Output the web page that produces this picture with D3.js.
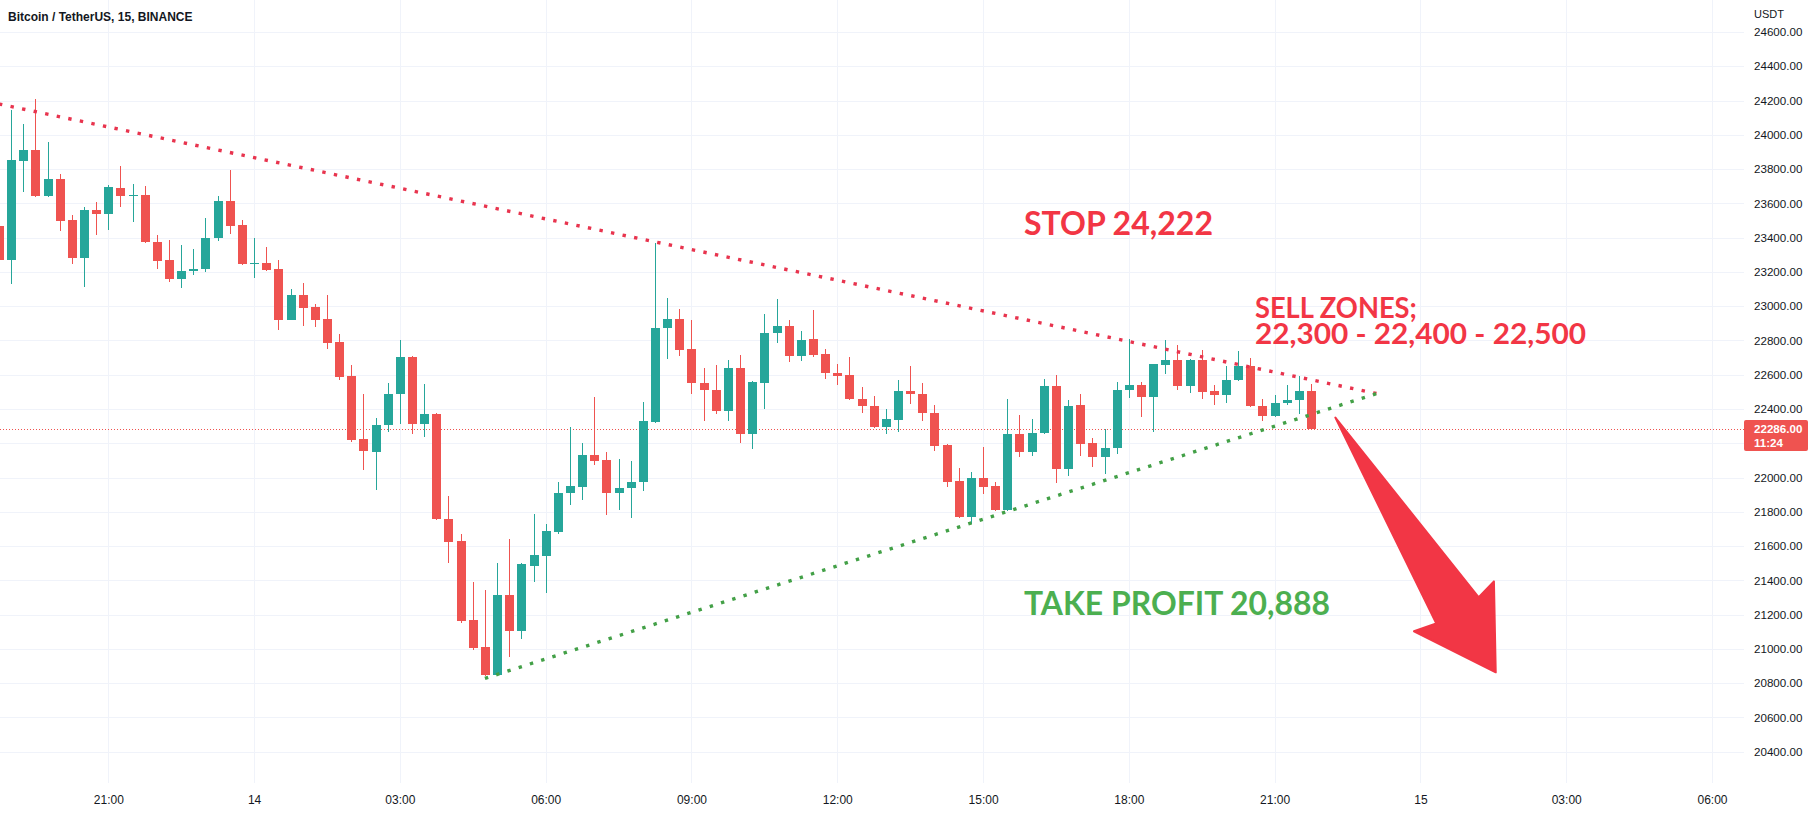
<!DOCTYPE html>
<html><head><meta charset="utf-8">
<script src="https://cdn.jsdelivr.net/npm/d3@7"></script>
<style>body{margin:0;background:#fff;overflow:hidden}svg{display:block}</style>
</head><body>
<svg id="chart" width="1814" height="813"></svg>
<script>
// ---- DATA (15-minute candles, BTC/USDT, starting 13th 18:45) ----
const opens  = [23470,23268,23848,23910,23643,23741,23501,23281,23560,23540,23692,23645,23647,23377,23268,23159,23206,23215,23400,23612,23472,23248,23250,23219,22922,23064,22996,22926,22789,22591,22223,22149,22305,22486,22704,22315,22369,21760,21628,21167,21011,20846,21313,21105,21484,21542,21682,21910,21945,22130,22100,21910,21939,21974,22324,22875,22924,22748,22554,22513,22389,22640,22252,22552,22846,22883,22708,22807,22719,22612,22597,22461,22420,22295,22338,22503,22490,22379,22188,21978,21770,21998,21951,21809,22256,22149,22260,22532,22052,22422,22204,22120,22173,22513,22538,22470,22659,22684,22534,22684,22503,22484,22568,22649,22418,22359,22437,22451,22503];
const highs  = [23490,24143,24065,24211,23958,23770,23530,23579,23608,23705,23816,23711,23700,23414,23388,23355,23336,23517,23641,23793,23501,23398,23346,23268,23102,23137,23011,23064,22840,22655,22490,22350,22552,22801,22710,22548,22375,21891,21673,21391,21342,21501,21640,21500,21789,21727,21974,22295,22202,22470,22149,22110,22097,22441,23369,23050,22986,22918,22641,22655,22684,22713,22565,22953,23044,22918,22853,22980,22752,22661,22704,22529,22474,22402,22568,22651,22552,22422,22198,22056,22033,22178,21974,22457,22363,22344,22573,22601,22451,22486,22233,22285,22558,22811,22558,22665,22805,22776,22690,22746,22542,22649,22739,22700,22457,22480,22538,22591,22548];
const lows   = [23250,23132,23667,23640,23640,23439,23248,23112,23414,23443,23579,23492,23369,23219,23141,23108,23180,23200,23381,23420,23240,23167,23206,22863,22920,22885,22879,22752,22568,22207,22046,21926,22266,22315,22256,22237,21755,21501,21151,20996,20840,20840,20950,21060,21391,21327,21669,21838,21867,22072,21780,21813,21766,21922,22320,22694,22710,22486,22330,22369,22330,22202,22169,22402,22785,22675,22680,22704,22577,22538,22450,22377,22290,22252,22266,22431,22330,22155,21945,21765,21731,21906,21805,21805,22120,22126,22255,21968,22009,22126,22062,22020,22140,22466,22354,22266,22606,22513,22494,22457,22422,22435,22565,22412,22330,22355,22425,22373,22286];
const closes = [23268,23851,23910,23643,23741,23497,23281,23560,23540,23696,23643,23650,23375,23264,23159,23208,23219,23400,23612,23468,23248,23250,23213,22922,23064,22990,22922,22785,22587,22221,22155,22305,22490,22704,22315,22369,21760,21624,21163,21005,20846,21313,21105,21494,21546,21686,21912,21949,22130,22097,21910,21941,21974,22328,22875,22924,22743,22552,22509,22389,22640,22252,22558,22846,22883,22708,22805,22713,22610,22593,22457,22418,22295,22340,22503,22490,22379,22184,21974,21770,21998,21945,21809,22256,22149,22262,22532,22052,22416,22198,22120,22175,22513,22538,22470,22661,22684,22534,22684,22499,22484,22571,22649,22418,22359,22437,22451,22503,22286];

const priceTicks = d3.range(20400, 24601, 200);
const timeTickIndex  = [9, 21, 33, 45, 57, 69, 81, 93, 105, 117, 129, 141];
const timeTickLabels = ["21:00","14","03:00","06:00","09:00","12:00","15:00","18:00","21:00","15","03:00","06:00"];
const lastPrice = 22286;
const countdown = "11:24";
const titleText = "Bitcoin / TetherUS, 15, BINANCE";
const currency = "USDT";

// trend lines: [candle index, price]
const resistanceLine = [[0, 24180], [113.4, 22490]];
const supportLine    = [[40, 20828], [113.4, 22490]];
// arrow outline: [candle index, price]
const arrowPoints = [[110, 22350], [121.8, 21301], [123.05, 21394], [123.2, 20863], [116.47, 21103], [118.3, 21149]];
// annotations: lines of text, [candle index, price] of first baseline start
const annotLines  = [["STOP 24,222"], ["SELL ZONES;", "22,300 - 22,400 - 22,500"], ["TAKE PROFIT 20,888"]];
const annotAnchor = [[84.37, 23415], [103.38, 22933], [84.37, 21198]];
const annotKind   = ["red", "red", "green"];

// ---- LAYOUT ----
const W = 1814, H = 813;
const paneW = 1744, paneH = 783;
const UP = "#26a69a", DOWN = "#ef5350", RED = "#f23645", GREEN = "#4caf50";

const x = d3.scaleLinear().domain([9, 141]).range([108.3, 1712]);
const y = d3.scaleLinear().domain([20400, 24600]).range([751.7, 32.0]);

const svg = d3.select("#chart");
svg.append("rect").attr("width", W).attr("height", H).attr("fill", "#ffffff");

svg.append("defs").append("clipPath").attr("id", "pane")
  .append("rect").attr("x", 0).attr("y", 0).attr("width", paneW).attr("height", paneH);

const pane = svg.append("g").attr("clip-path", "url(#pane)");

// grid
pane.append("g").selectAll("line").data(priceTicks).join("line")
  .attr("x1", 0).attr("x2", paneW)
  .attr("y1", d => Math.round(y(d)) + 0.5).attr("y2", d => Math.round(y(d)) + 0.5)
  .attr("stroke", "#f0f3fa").attr("stroke-width", 1);
pane.append("g").selectAll("line").data(timeTickIndex).join("line")
  .attr("y1", 0).attr("y2", paneH)
  .attr("x1", d => Math.round(x(d)) + 0.5).attr("x2", d => Math.round(x(d)) + 0.5)
  .attr("stroke", "#f0f3fa").attr("stroke-width", 1);

// last price line
pane.append("line")
  .attr("x1", 0).attr("x2", paneW)
  .attr("y1", Math.round(y(lastPrice)) + 0.5).attr("y2", Math.round(y(lastPrice)) + 0.5)
  .attr("stroke", DOWN).attr("stroke-width", 1).attr("stroke-dasharray", "1,2");

// candles
const candles = opens.map((o, i) => ({i, o, h: highs[i], l: lows[i], c: closes[i]}));
const cg = pane.append("g").attr("shape-rendering", "crispEdges");
const bodyW = 9;
cg.selectAll("line.wick").data(candles).join("line").attr("class", "wick")
  .attr("x1", d => Math.round(x(d.i)) + 0.5).attr("x2", d => Math.round(x(d.i)) + 0.5)
  .attr("y1", d => y(d.h)).attr("y2", d => y(d.l))
  .attr("stroke", d => d.c >= d.o ? UP : DOWN).attr("stroke-width", 1);
cg.selectAll("rect.body").data(candles).join("rect").attr("class", "body")
  .attr("x", d => Math.round(x(d.i)) + 0.5 - bodyW / 2)
  .attr("width", bodyW)
  .attr("y", d => y(Math.max(d.o, d.c)))
  .attr("height", d => Math.max(1, Math.abs(y(d.o) - y(d.c))))
  .attr("fill", d => d.c >= d.o ? UP : DOWN);

// trend lines
const lineGen = d3.line().x(d => x(d[0])).y(d => y(d[1]));
pane.append("path").datum(resistanceLine).attr("d", lineGen)
  .attr("fill", "none").attr("stroke", "#e8344e").attr("stroke-width", 3.4)
  .attr("stroke-dasharray", "3.4,8.4");
pane.append("path").datum(supportLine).attr("d", lineGen)
  .attr("fill", "none").attr("stroke", "#43a047").attr("stroke-width", 3.4)
  .attr("stroke-dasharray", "3.4,8.4");

// arrow
pane.append("path")
  .attr("d", d3.line().x(d => x(d[0])).y(d => y(d[1])).curve(d3.curveLinearClosed)(arrowPoints))
  .attr("fill", RED).attr("stroke", RED).attr("stroke-width", 2).attr("stroke-linejoin", "round");

// annotation texts
const annotSize = [32, 28, 32];
const annotWidth = [[189], [162, 331], [306]];
const annotLineGap = 26.2;
annotLines.forEach((lines, k) => {
  const t = pane.append("text")
    .attr("x", x(annotAnchor[k][0])).attr("y", y(annotAnchor[k][1]))
    .attr("font-family", "Lato, 'Open Sans', sans-serif")
    .attr("font-weight", 700)
    .attr("font-size", annotSize[k])
    .attr("fill", annotKind[k] === "red" ? RED : GREEN);
  lines.forEach((ln, j) => {
    t.append("tspan")
      .attr("x", x(annotAnchor[k][0]))
      .attr("dy", j === 0 ? 0 : annotLineGap)
      .attr("textLength", annotWidth[k][j]).attr("lengthAdjust", "spacingAndGlyphs")
      .text(ln);
  });
});

// price axis (labels hidden where the last-price tag covers them)
const ly = y(lastPrice);
const visibleTicks = priceTicks.filter(p => Math.abs(y(p) - (ly + 7)) > 22);
const yAxis = d3.axisRight(y).tickValues(visibleTicks).tickFormat(d => d.toFixed(2)).tickSize(0).tickPadding(10);
const ya = svg.append("g").attr("transform", `translate(${paneW},0)`).call(yAxis);
ya.select(".domain").remove();
ya.selectAll("text").attr("font-family", "'Liberation Sans', Arial, sans-serif").attr("font-size", 11.6).attr("fill", "#131722");

svg.append("text").attr("x", 1754).attr("y", 18)
  .attr("font-family", "'Liberation Sans', Arial, sans-serif").attr("font-size", 11)
  .attr("fill", "#131722").text(currency);

// time axis
const xAxis = d3.axisBottom(x).tickValues(timeTickIndex).tickFormat((d, k) => timeTickLabels[k]).tickSize(0).tickPadding(12.5);
const xa = svg.append("g").attr("transform", `translate(0,${paneH})`).call(xAxis);
xa.select(".domain").remove();
xa.selectAll("text").attr("font-family", "'Liberation Sans', Arial, sans-serif").attr("font-size", 12).attr("fill", "#131722");

// last price label
svg.append("rect").attr("x", paneW).attr("y", ly - 8.5).attr("width", 64).attr("height", 31)
  .attr("rx", 2).attr("fill", DOWN);
const lp = svg.append("text").attr("x", 1754).attr("y", ly + 4.5)
  .attr("font-family", "'Liberation Sans', Arial, sans-serif").attr("font-size", 11.6).attr("font-weight", 700)
  .attr("fill", "#ffffff");
lp.append("tspan").attr("x", 1754).attr("dy", 0).text(lastPrice.toFixed(2));
lp.append("tspan").attr("x", 1754).attr("dy", 13.5).text(countdown);

// title
svg.append("text").attr("x", 8).attr("y", 21)
  .attr("font-family", "'Liberation Sans', Arial, sans-serif").attr("font-size", 12).attr("font-weight", 700)
  .attr("fill", "#131722").text(titleText);
</script>
</body></html>
